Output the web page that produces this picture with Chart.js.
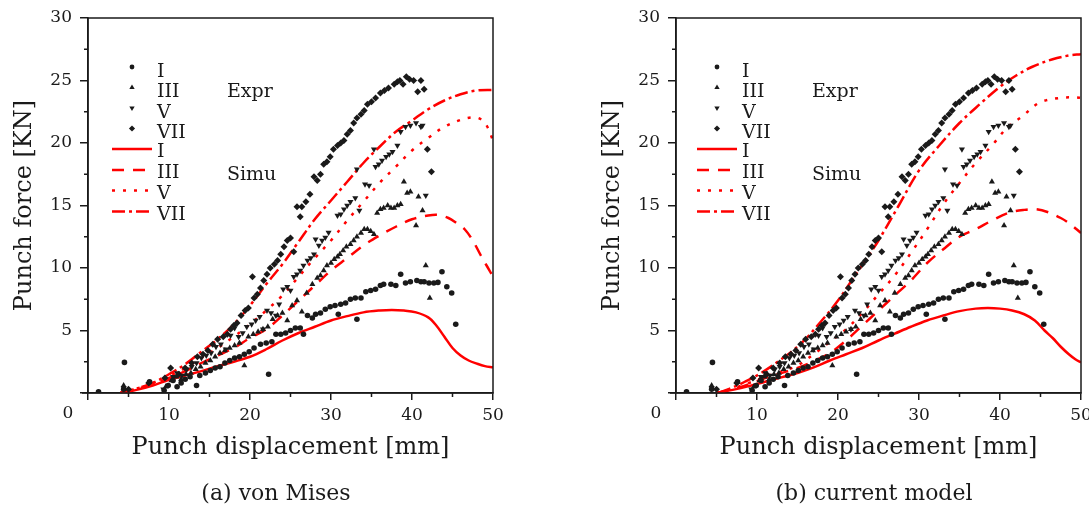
<!DOCTYPE html>
<html>
<head>
<meta charset="utf-8">
<script src="https://cdn.jsdelivr.net/npm/chart.js@4/dist/chart.umd.min.js"></script>
<style>
  html, body { margin: 0; padding: 0; background: #fff; }
  #wrap { position: relative; width: 1089px; height: 510px; overflow: hidden; }
  .box { position: absolute; top: 0; height: 510px; }
  .cap { position: absolute; top: 480px; font: 22px "DejaVu Serif", serif; color: #1a1a1a;
         white-space: nowrap; transform: translateX(-50%); }
</style>
</head>
<body>
<div id="wrap">
  <div class="box" style="left:0;width:545px"><canvas id="c1" width="545" height="510"></canvas></div>
  <div class="box" style="left:545px;width:544px"><canvas id="c2" width="544" height="510"></canvas></div>
  <div class="cap" style="left:276px">(a) von Mises</div>
  <div class="cap" style="left:874px">(b) current model</div>
</div>
<script>
// ---- experiment (same in both panels), [displacement mm, force kN] ----
const exprI = [
  [1.3,0.1],[4.4,0.3],[4.5,2.45],[7.6,0.9],[9.4,0.2],[9.9,0.6],[10.5,1.0],[11.0,0.5],[11.5,0.8],
  [12.0,1.1],[12.6,1.3],[13.4,0.6],[13.8,1.4],[14.5,1.6],[15.1,1.8],[15.7,2.0],[16.3,2.1],[16.9,2.4],
  [17.5,2.6],[18.1,2.8],[18.7,2.9],[19.3,3.1],[19.9,3.3],[20.5,3.6],[21.3,3.9],[22.0,4.0],[22.3,1.5],
  [22.7,4.1],[23.2,4.7],[23.8,4.7],[24.4,4.8],[25.0,5.0],[25.6,5.2],[26.2,5.2],[26.6,4.7],[27.1,6.2],
  [27.7,6.0],[28.1,6.3],[28.7,6.4],[29.3,6.7],[29.9,6.9],[30.5,7.0],[30.9,6.3],[31.2,7.1],[31.8,7.2],
  [32.4,7.5],[33.0,7.6],[33.2,5.9],[33.7,7.6],[34.3,8.1],[34.9,8.2],[35.5,8.3],[36.1,8.6],[36.5,8.7],
  [37.4,8.7],[38.0,8.6],[38.6,9.5],[39.2,8.8],[39.8,8.9],[40.6,9.0],[41.1,8.9],[41.5,8.9],[42.1,8.8],
  [42.7,8.8],[43.2,8.85],[43.7,9.7],[44.3,8.5],[44.9,8.0],[45.4,5.5]
];
const exprIII = [
  [4.4,0.6],[9.6,0.5],[10.3,1.0],[10.9,1.3],[11.5,1.1],[12.1,1.5],[12.7,1.6],[13.3,1.9],[13.9,2.1],
  [14.5,2.4],[15.1,2.6],[15.7,2.9],[16.3,3.2],[16.9,3.4],[17.5,3.6],[18.1,3.8],[18.7,4.0],[19.3,2.2],
  [19.8,4.5],[20.4,4.7],[21.0,4.9],[21.6,5.1],[22.2,5.3],[22.8,5.9],[23.4,6.2],[24.0,6.4],[24.6,5.8],
  [25.2,7.0],[25.8,7.4],[26.4,6.5],[27.0,8.0],[27.7,8.7],[28.3,9.2],[28.7,9.4],[29.1,9.8],[29.5,10.2],
  [30.0,10.4],[30.4,10.7],[30.8,10.9],[31.1,11.1],[31.5,11.4],[31.9,11.7],[32.4,11.9],[32.8,12.2],
  [33.2,12.5],[33.7,12.8],[34.1,13.1],[34.5,13.1],[34.9,12.95],[35.3,12.7],[35.7,14.4],[36.1,14.7],
  [36.5,14.8],[37.0,15.0],[37.4,14.8],[37.8,14.8],[38.2,15.0],[38.6,15.1],[39.0,16.9],[39.4,16.0],
  [39.8,16.1],[40.5,13.4],[40.8,15.7],[41.3,14.6],[41.7,10.2],[42.2,7.6]
];
const exprV = [
  [4.4,0.4],[9.3,0.3],[10.5,1.3],[11.0,1.6],[11.6,1.4],[12.2,1.9],[12.8,2.1],[13.4,2.4],[14.0,2.8],
  [14.6,3.0],[15.2,3.2],[15.8,3.7],[16.4,3.9],[17.0,3.5],[17.6,4.6],[18.1,5.2],[18.6,4.5],[19.1,4.8],
  [19.6,5.3],[20.2,5.5],[20.7,5.8],[21.2,6.1],[21.6,5.1],[22.1,6.6],[22.6,6.4],[23.2,6.2],[23.6,7.1],
  [24.1,8.3],[24.6,8.5],[25.0,8.2],[25.4,9.3],[25.8,9.5],[26.2,9.8],[26.6,10.2],[27.1,10.6],[27.5,10.8],
  [27.9,11.1],[28.1,12.3],[28.5,11.8],[28.9,12.2],[29.3,12.45],[29.7,12.85],[30.8,14.2],[31.2,14.3],
  [31.6,14.7],[32.0,15.0],[32.4,15.3],[33.0,15.6],[33.2,17.9],[33.5,14.6],[34.2,16.7],[34.7,16.6],
  [35.3,19.5],[35.5,18.1],[35.9,18.3],[36.3,18.6],[36.8,18.9],[37.2,19.1],[37.6,19.3],[38.2,19.8],
  [38.6,20.9],[39.2,21.3],[39.8,21.4],[40.5,21.6],[41.1,21.3],[41.3,21.4],[41.7,15.8]
];
const exprVII = [
  [5.0,0.3],[7.5,0.8],[9.5,1.2],[10.2,2.0],[11.2,1.5],[12.0,2.0],[12.8,2.4],[13.5,2.9],[14.2,3.1],
  [14.8,3.4],[15.4,3.9],[16.0,4.3],[16.7,4.5],[17.2,4.7],[17.6,5.1],[18.0,5.4],[18.4,5.6],[18.9,6.2],
  [19.4,6.6],[19.8,6.8],[20.3,9.3],[20.5,7.6],[20.9,7.9],[21.3,8.4],[21.7,9.0],[22.1,9.5],[22.5,10.0],
  [23.0,10.3],[23.4,10.6],[23.8,11.1],[24.2,11.7],[24.6,12.2],[25.0,12.4],[25.4,11.3],[25.8,14.9],
  [26.2,14.1],[26.4,14.9],[26.9,15.3],[27.4,15.9],[27.9,17.3],[28.3,17.0],[28.7,17.5],[29.1,18.3],
  [29.5,18.5],[29.9,18.9],[30.3,19.5],[30.8,19.8],[31.2,20.0],[31.6,20.2],[32.0,20.7],[32.4,21.0],
  [32.8,21.6],[33.2,22.0],[33.7,22.3],[34.1,22.6],[34.5,23.1],[35.0,23.3],[35.5,23.6],[36.1,24.0],
  [36.6,24.2],[37.1,24.4],[37.8,24.7],[38.2,24.9],[38.5,25.0],[38.9,24.7],[39.3,25.3],[39.7,25.1],
  [40.2,25.0],[40.7,24.1],[41.1,25.0],[41.5,24.3],[41.9,19.5],[42.4,17.7]
];

// ---- simulation, von Mises ----
const misesI = [[4,0],[6,0.25],[8,0.6],[10,1.05],[12,1.4],[14,1.75],[16,2.15],[18,2.5],[20,2.9],
  [22,3.5],[24,4.2],[26,4.8],[28,5.3],[30,5.8],[32,6.15],[34,6.45],[36,6.6],[37.5,6.65],[39,6.6],
  [40.5,6.45],[42,6.05],[43,5.4],[44,4.5],[45,3.6],[46,3.0],[47,2.6],[48,2.35],[49,2.15],[50,2.05]];
const misesIII = [[4,0],[6,0.3],[8,0.7],[10,1.2],[12,1.75],[14,2.4],[16,3.0],[18,3.6],[20,4.4],
  [22,5.1],[24,6.2],[26,7.4],[28,8.6],[30,9.8],[32,10.8],[34,11.8],[36,12.6],[38,13.3],[40,13.9],
  [42,14.2],[43.2,14.25],[44.5,14.0],[45.5,13.6],[46.5,13.1],[47.5,12.2],[48.5,11.0],[49.3,10.1],[50,9.3]];
const misesV = [[4,0],[6,0.35],[8,0.8],[10,1.35],[12,2.0],[14,2.8],[16,3.6],[18,4.5],[20,5.5],
  [22,6.6],[24,7.8],[26,9.3],[28,10.8],[30,12.2],[32,13.8],[34,15.3],[36,16.8],[38,18.1],[40,19.4],
  [42,20.4],[44,21.3],[46,21.85],[47.5,22.05],[48.5,21.9],[49.3,21.3],[50,20.2]];
const misesVII = [[4,0],[6,0.35],[8,0.8],[10,1.5],[12,2.3],[14,3.3],[16,4.3],[18,5.5],[20,7.0],
  [22,8.7],[24,10.3],[26,12.1],[28,13.9],[30,15.4],[32,16.9],[34,18.4],[36,19.7],[38,20.9],[40,21.8],
  [42,22.7],[44,23.4],[46,23.9],[48,24.2],[50,24.25]];

// ---- simulation, current model ----
const modelI = [[5,0],[7,0.25],[9,0.55],[11,0.9],[13,1.25],[15,1.6],[17,2.05],[19,2.6],[21,3.1],
  [23,3.6],[25,4.2],[27,4.75],[29,5.3],[31,5.8],[33,6.2],[35,6.55],[37,6.75],[38.5,6.8],[40,6.75],
  [41.5,6.6],[43,6.3],[44.3,5.8],[45.5,5.0],[46.5,4.4],[47.5,3.7],[48.5,3.1],[49.3,2.7],[50,2.45]];
const modelIII = [[5,0],[7,0.3],[9,0.7],[11,1.2],[13,1.6],[15,2.0],[17,2.55],[19,3.2],[21,4.2],
  [23,5.4],[25,6.6],[27,7.8],[29,9.0],[31,10.4],[33,11.5],[35,12.5],[37,13.1],[39,13.8],[41,14.4],
  [43,14.65],[44.5,14.7],[46,14.45],[47.5,14.0],[48.5,13.6],[50,12.8]];
const modelV = [[5,0],[7,0.35],[9,0.8],[11,1.3],[13,1.7],[15,2.2],[17,3.1],[19,4.1],[21,5.1],
  [23,6.4],[25,7.9],[27,9.4],[29,11.2],[31,13.1],[33,15.1],[35,16.8],[37,18.4],[39,19.8],[41,21.3],
  [42.7,22.1],[44.8,23.2],[47.3,23.6],[49.4,23.65],[50,23.6]];
const modelVII = [[5.2,0],[6.5,0.3],[8.5,0.9],[10.5,1.6],[13,2.7],[15.5,4.0],[18,5.8],[20,7.4],
  [22,9.3],[24,11.2],[25,12.2],[27.5,15.0],[30,17.8],[32.5,19.8],[35,21.6],[37.5,23.1],[40,24.5],
  [42,25.4],[44,26.1],[46.5,26.7],[48.5,27.0],[50,27.1]];

const X_TICKS = [10, 20, 30, 40, 50];
const Y_TICKS = [5, 10, 15, 20, 25, 30];

const SERIF = '"DejaVu Serif", serif';
const INK = "#1a1a1a";
const RED = "#ff0000";

const toPts = (arr) => arr.map(([x, y]) => ({ x, y }));

function exprSet(label, data, style, rot) {
  return {
    label, data: toPts(data), showLine: false,
    pointStyle: style, pointRotation: rot || 0,
    pointRadius: style === "circle" ? 2.8 : 3.5,
    pointBackgroundColor: INK, pointBorderWidth: 0, pointHoverRadius: 0,
  };
}
function simuSet(label, data, dash) {
  return {
    label, data: toPts(data), showLine: true, fill: false,
    borderColor: RED, borderWidth: 2.5, borderDash: dash,
    pointRadius: 0, pointHoverRadius: 0, tension: 0.35,
  };
}

/* minor ticks, frame, corner "0" */
const framePlugin = {
  id: "frame",
  afterDraw(chart) {
    const { ctx, chartArea: a, scales: { x, y } } = chart;
    ctx.save();
    ctx.strokeStyle = INK;
    ctx.lineWidth = 1.5;
    ctx.strokeRect(a.left, a.top, a.right - a.left, a.bottom - a.top);
    ctx.beginPath();
    X_TICKS.forEach((v) => {
      const px = x.getPixelForValue(v - 5);
      ctx.moveTo(px, a.bottom); ctx.lineTo(px, a.bottom + 4);
    });
    Y_TICKS.forEach((v) => {
      const py = y.getPixelForValue(v - 2.5);
      ctx.moveTo(a.left, py); ctx.lineTo(a.left - 4, py);
    });
    ctx.moveTo(a.left - 6, a.bottom); ctx.lineTo(a.left, a.bottom);
    ctx.stroke();
    ctx.fillStyle = INK;
    ctx.font = "17px " + SERIF;
    ctx.textAlign = "center";
    ctx.textBaseline = "middle";
    ctx.fillText("0", a.left - 20, a.bottom + 21);
    ctx.restore();
  },
};

/* two-group legend: Expr markers, Simu lines */
const groupLegend = {
  id: "groupLegend",
  afterDraw(chart, args, opts) {
    const { ctx, chartArea: a } = chart;
    const x0 = a.left + opts.dx;
    const rows = opts.rows;
    ctx.save();
    ctx.font = "19px " + SERIF;
    ctx.textAlign = "left";
    ctx.textBaseline = "middle";
    chart.data.datasets.forEach((d, i) => {
      const ty = rows[i];
      if (d.showLine) {
        ctx.strokeStyle = d.borderColor;
        ctx.lineWidth = d.borderWidth;
        ctx.setLineDash(d.borderDash || []);
        ctx.beginPath();
        ctx.moveTo(x0 + 24, ty - 3.5);
        ctx.lineTo(x0 + 64, ty - 3.5);
        ctx.stroke();
        ctx.setLineDash([]);
      } else {
        ctx.fillStyle = INK;
        Chart.helpers.drawPoint(ctx, {
          pointStyle: d.pointStyle, radius: d.pointRadius - 0.4,
          rotation: d.pointRotation, borderWidth: 0,
        }, x0 + 44, ty - 5);
      }
      ctx.fillStyle = INK;
      ctx.fillText(d.label, x0 + 69, ty);
    });
    ctx.fillText("Expr", x0 + 139, rows[1]);
    ctx.fillText("Simu", x0 + 139, rows[5] + 1.5);
    ctx.restore();
  },
};

const LEGEND_ROWS = [72, 92.5, 113, 133.5, 152.5, 173.5, 194, 215];

function makeChart(id, sims, padLeft, padRight, legendDx) {
  return new Chart(document.getElementById(id), {
    type: "scatter",
    data: {
      datasets: [
        exprSet("I", exprI, "circle"),
        exprSet("III", exprIII, "triangle"),
        exprSet("V", exprV, "triangle", 180),
        exprSet("VII", exprVII, "rectRot"),
        simuSet("I", sims[0], []),
        simuSet("III", sims[1], [12, 9]),
        simuSet("V", sims[2], [3, 8]),
        simuSet("VII", sims[3], [13, 4, 3, 4]),
      ],
    },
    options: {
      responsive: false,
      animation: false,
      events: [],
      layout: { padding: { left: padLeft, right: padRight, top: 18, bottom: 30 } },
      plugins: {
        legend: { display: false },
        tooltip: { enabled: false },
        groupLegend: { dx: legendDx, rows: LEGEND_ROWS },
      },
      scales: {
        x: {
          type: "linear", min: 0, max: 50,
          afterFit(s) { s.height = 87; s.paddingLeft = 0; s.paddingRight = 0; },
          afterBuildTicks(s) { s.ticks = [0, ...X_TICKS].map((v) => ({ value: v })); },
          ticks: {
            callback: (v) => (v === 0 ? "" : v), autoSkip: false, maxRotation: 0,
            font: { family: SERIF, size: 17 }, color: INK, padding: 5,
          },
          grid: { drawOnChartArea: false, tickLength: 7, color: INK, lineWidth: 1.5 },
          border: { color: INK, width: 1.5 },
          title: {
            display: true, text: "Punch displacement [mm]", color: INK,
            font: { family: SERIF, size: 24 }, padding: { top: 0, bottom: 17.6 },
          },
        },
        y: {
          type: "linear", min: 0, max: 30,
          afterFit(s) { s.width = 88; s.paddingTop = 0; s.paddingBottom = 0; },
          afterBuildTicks(s) { s.ticks = [0, ...Y_TICKS].map((v) => ({ value: v })); },
          ticks: {
            callback: (v) => (v === 0 ? "" : v), autoSkip: false,
            font: { family: SERIF, size: 17 }, color: INK, padding: 8,
          },
          grid: { drawOnChartArea: false, tickLength: 8, color: INK, lineWidth: 1.5 },
          border: { color: INK, width: 1.5 },
          title: {
            display: true, text: "Punch force [KN]", color: INK,
            font: { family: SERIF, size: 24 }, padding: { top: 10, bottom: 0 },
          },
        },
      },
    },
    plugins: [framePlugin, groupLegend],
  });
}

makeChart("c1", [misesI, misesIII, misesV, misesVII], 0, 52, 0);
makeChart("c2", [modelI, modelIII, modelV, modelVII], 43, 8, -3);
</script>
</body>
</html>
